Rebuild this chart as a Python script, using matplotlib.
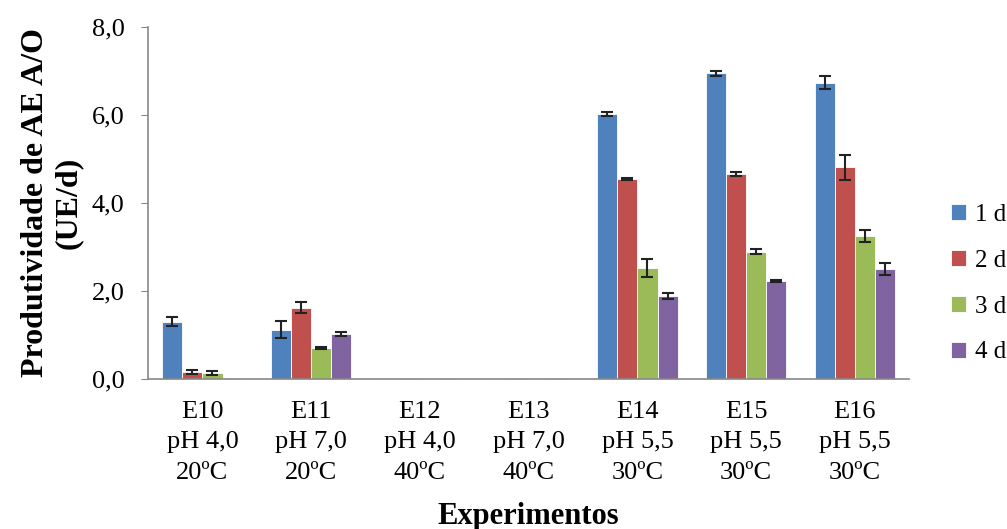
import numpy as np
import matplotlib.pyplot as plt

plt.rcParams['font.family'] = ['Liberation Serif', 'DejaVu Serif']

experimentos = ['E10\npH 4,0\n20ºC', 'E11\npH 7,0\n20ºC', 'E12\npH 4,0\n40ºC',
                'E13\npH 7,0\n40ºC', 'E14\npH 5,5\n30ºC', 'E15\npH 5,5\n30ºC',
                'E16\npH 5,5\n30ºC']
series = ['1 d', '2 d', '3 d', '4 d']

dia1 = [1.30, 1.12, 0.01, 0.01, 6.02, 6.95, 6.73]
dia2 = [0.15, 1.62, 0.01, 0.01, 4.54, 4.66, 4.81]
dia3 = [0.13, 0.70, 0.01, 0.01, 2.52, 2.89, 3.25]
dia4 = [0.02, 1.02, 0.01, 0.01, 1.89, 2.23, 2.49]

err1 = [0.10, 0.20, 0, 0, 0.05, 0.06, 0.15]
err2 = [0.04, 0.12, 0, 0, 0.03, 0.05, 0.28]
err3 = [0.05, 0.03, 0, 0, 0.20, 0.05, 0.14]
err4 = [0, 0.05, 0, 0, 0.07, 0.02, 0.14]

cores = ['#4F81BD', '#C0504D', '#9BBB59', '#8064A2']
valores = [dia1, dia2, dia3, dia4]
erros = [err1, err2, err3, err4]

fig = plt.figure(figsize=(10.07, 5.29), dpi=100)
ax = fig.add_axes([0.147, 0.284, 0.756, 0.665])

x = np.arange(len(experimentos))
w = 0.185
for i in range(4):
    pos = x + (i - 1.5) * w
    ax.bar(pos, valores[i], w, color=cores[i], edgecolor='white', linewidth=0.6,
           label=series[i], zorder=2)
    e = np.array(erros[i])
    m = e > 0
    ax.errorbar(pos[m], np.array(valores[i])[m], yerr=e[m], fmt='none',
                ecolor='#222222', elinewidth=1.5, capsize=4.5, capthick=1.5, zorder=3)

ax.set_xlim(-0.5, len(experimentos) - 0.5)
ax.set_ylim(0, 8)
ax.set_yticks([0, 2, 4, 6, 8])
ax.set_yticklabels(['0,0', '2,0', '4,0', '6,0', '8,0'])
ax.set_xticks(x)
ax.set_xticklabels(experimentos, linespacing=1.5)
ax.tick_params(axis='x', length=0, labelsize=19, pad=16)
ax.tick_params(axis='y', length=5, color='#888888', labelsize=19, pad=12)

for s in ['top', 'right']:
    ax.spines[s].set_visible(False)
for s in ['left', 'bottom']:
    ax.spines[s].set_color('#888888')
    ax.spines[s].set_linewidth(1.2)

ax.set_ylabel('Produtividade de AE A/O\n(UE/d)', fontsize=23, fontweight='bold',
              linespacing=1.2, labelpad=6)
ax.set_xlabel('Experimentos', fontsize=22, fontweight='bold', labelpad=13)

leg = ax.legend(loc='center left', bbox_to_anchor=(1.025, 0.27), frameon=False,
                fontsize=18, handlelength=0.6, handleheight=0.6,
                labelspacing=0.95, handletextpad=0.35)

fig.savefig('out.png', dpi=100)
